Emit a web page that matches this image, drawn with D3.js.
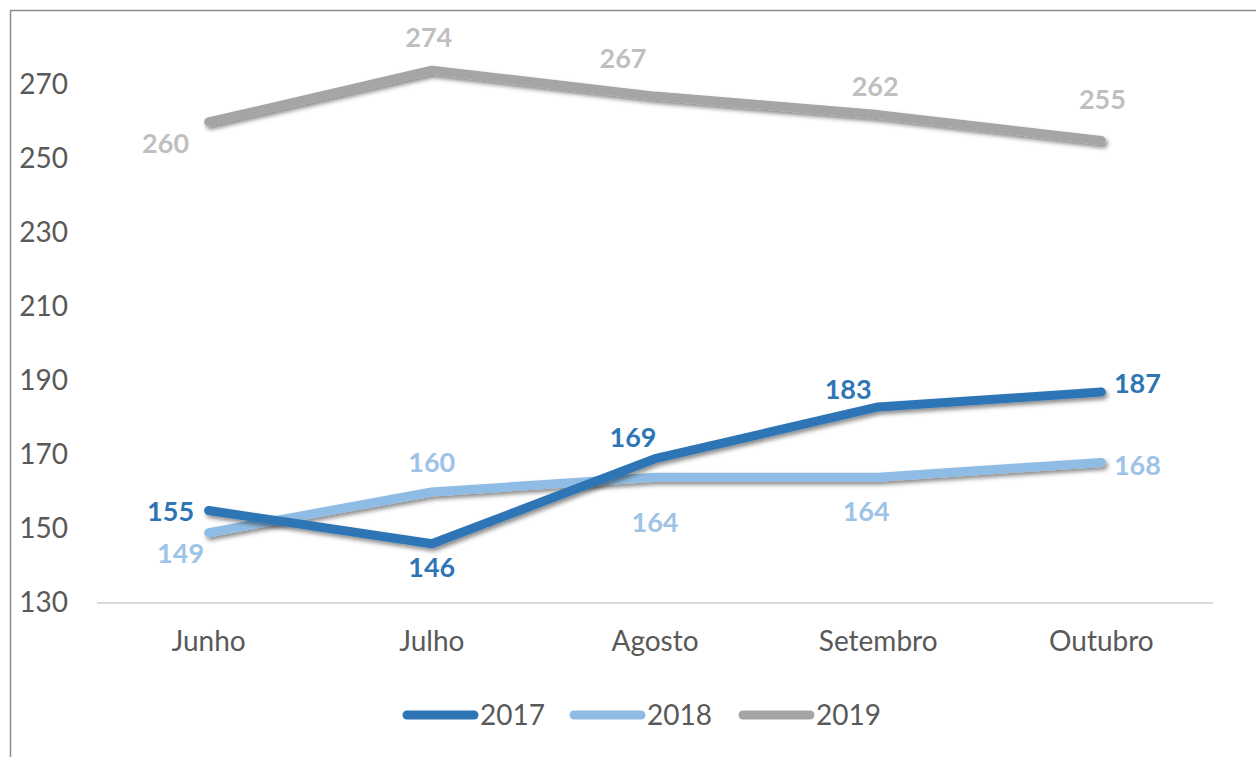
<!DOCTYPE html>
<html>
<head>
<meta charset="utf-8">
<script src="https://cdn.jsdelivr.net/npm/d3@7"></script>
<style>
  body { margin: 0; background: #fff; }
  svg text { font-family: Lato, "Open Sans", sans-serif; }
</style>
</head>
<body>
<div id="chart"></div>
<script>
// data
const months = ["Junho", "Julho", "Agosto", "Setembro", "Outubro"];
const years = ["2017", "2018", "2019"];
const values2017 = [155, 146, 169, 183, 187];
const values2018 = [149, 160, 164, 164, 168];
const values2019 = [260, 274, 267, 262, 255];
const yTicks = [130, 150, 170, 190, 210, 230, 250, 270];

// label offsets from each point [dx, dy] (Excel placed these to avoid overlap)
const labelOff2017 = [[-38, 1], [0, 24], [-22, -21], [-30, -17], [36, -9]];
const labelOff2018 = [[-28, 21], [0, -29], [0, 45], [-12, 34], [36, 3]];
const labelOff2019 = [[-43, 22], [-3, -33], [-32, -38], [-3, -28], [1, -41]];

const width = 1256, height = 757;
const colors = { "2017": "#2E75B6", "2018": "#8FBCE4", "2019": "#A5A5A5" };
const labelColors = { "2017": "#2E75B6", "2018": "#9DC3E6", "2019": "#BFBFBF" };

const series = [
	{ name: "2017", values: values2017, off: labelOff2017 },
	{ name: "2018", values: values2018, off: labelOff2018 },
	{ name: "2019", values: values2019, off: labelOff2019 }
];

const svg = d3.select("#chart").append("svg")
	.attr("width", width)
	.attr("height", height);

// drop shadow under the lines
const filter = svg.append("defs").append("filter")
	.attr("id", "shadow")
	.attr("x", "-10%").attr("y", "-50%")
	.attr("width", "120%").attr("height", "200%");
filter.append("feDropShadow")
	.attr("dx", 2).attr("dy", 3)
	.attr("stdDeviation", 2.2)
	.attr("flood-color", "#000")
	.attr("flood-opacity", 0.45);

// chart frame
svg.append("path")
	.attr("d", `M10.5,${height} V10.5 H${width}`)
	.attr("fill", "none")
	.attr("stroke", "#8C8C8C")
	.attr("stroke-width", 1.5);

const x = d3.scaleBand().domain(months).range([97, 1213]);
const y = d3.scaleLinear().domain([130, 280]).range([603, 48]);
const cx = m => x(m) + x.bandwidth() / 2;

// y axis labels
const yAxis = svg.append("g")
	.attr("transform", "translate(68,0)")
	.call(d3.axisLeft(y).tickValues(yTicks).tickSize(0).tickPadding(0));
yAxis.select(".domain").remove();
yAxis.selectAll("text")
	.attr("font-size", 28)
	.attr("fill", "#595959")
	.attr("font-family", "Lato, sans-serif");

// baseline
svg.append("line")
	.attr("x1", 97).attr("x2", 1213)
	.attr("y1", y(130)).attr("y2", y(130))
	.attr("stroke", "#D9D9D9")
	.attr("stroke-width", 2);

// x axis labels
const xAxis = svg.append("g")
	.attr("transform", `translate(0,${y(130)})`)
	.call(d3.axisBottom(x).tickSize(0).tickPadding(28));
xAxis.select(".domain").remove();
xAxis.selectAll("text")
	.attr("font-size", 28)
	.attr("fill", "#595959")
	.attr("font-family", "Lato, sans-serif");

const line = d3.line()
	.x((d, i) => cx(months[i]))
	.y(d => y(d));

// draw gray first so blue lines sit on top
[series[2], series[1], series[0]].forEach(s => {
	svg.append("path")
		.datum(s.values)
		.attr("d", line)
		.attr("fill", "none")
		.attr("stroke", colors[s.name])
		.attr("stroke-width", 9)
		.attr("stroke-linecap", "round")
		.attr("stroke-linejoin", "round")
		.attr("filter", "url(#shadow)");
});

series.forEach(s => {
	svg.append("g").selectAll("text")
		.data(s.values)
		.join("text")
		.attr("x", (d, i) => cx(months[i]) + s.off[i][0])
		.attr("y", (d, i) => y(d) + s.off[i][1])
		.attr("dy", "0.35em")
		.attr("text-anchor", "middle")
		.attr("font-size", 27)
		.attr("font-weight", "bold")
		.attr("fill", labelColors[s.name])
		.text(d => d);
});

// legend
const legendX = [403, 570, 739];
const legend = svg.append("g").attr("transform", "translate(0,715)");
years.forEach((yr, i) => {
	legend.append("line")
		.attr("x1", legendX[i] + 4).attr("x2", legendX[i] + 71)
		.attr("y1", 0).attr("y2", 0)
		.attr("stroke", colors[yr])
		.attr("stroke-width", 9)
		.attr("stroke-linecap", "round");
	legend.append("text")
		.attr("x", legendX[i] + 77)
		.attr("y", 0)
		.attr("dy", "0.35em")
		.attr("font-size", 28)
		.attr("fill", "#595959")
		.text(yr);
});
</script>
</body>
</html>
